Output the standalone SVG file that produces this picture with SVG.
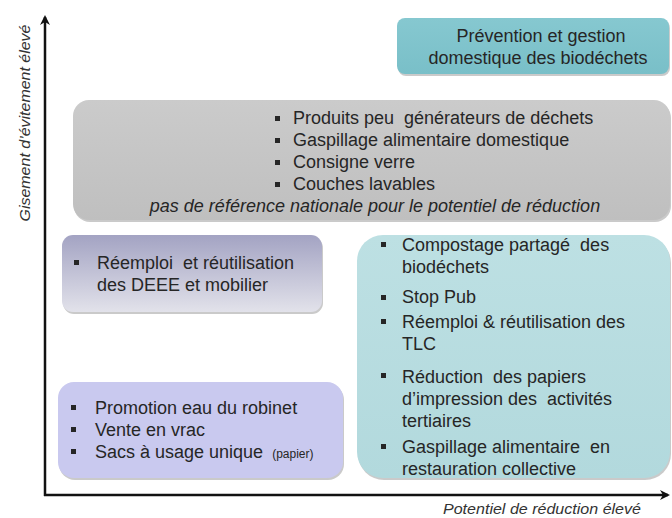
<svg xmlns="http://www.w3.org/2000/svg" width="672" height="518" viewBox="0 0 672 518">
<defs>
<style>
.t{font-family:"Liberation Sans",Arial,sans-serif;font-size:18px;fill:#262626;white-space:pre}
.ti{font-family:"Liberation Sans",Arial,sans-serif;font-size:18px;font-style:italic;fill:#262626}
.ax{font-family:"Liberation Sans",Arial,sans-serif;font-size:14px;font-style:italic;fill:#333}
.sm{font-size:12px}
.b{fill:#262626}
.sh{fill:#8a8a8a;opacity:0.45}
.axis{stroke:#111;stroke-width:2.5;fill:none}
</style>
<linearGradient id="gTeal" x1="0" y1="0" x2="0" y2="1"><stop offset="0" stop-color="#86c8d0"/><stop offset="1" stop-color="#79bfc8"/></linearGradient>
<linearGradient id="gGray" x1="0" y1="0" x2="0" y2="1"><stop offset="0" stop-color="#cbcbcb"/><stop offset="1" stop-color="#bfbfbf"/></linearGradient>
<linearGradient id="gPurp" x1="0" y1="0" x2="0" y2="1"><stop offset="0" stop-color="#a3a3c3"/><stop offset="1" stop-color="#e2e2ea"/></linearGradient>
<linearGradient id="gLt" x1="0" y1="0" x2="0" y2="1"><stop offset="0" stop-color="#bde0e3"/><stop offset="1" stop-color="#b2d9dd"/></linearGradient>
<marker id="arr" viewBox="0 0 10 10" refX="8" refY="5" markerWidth="4" markerHeight="4" orient="auto" markerUnits="strokeWidth"><path d="M0,0 L10,5 L0,10 L3,5 Z" fill="#111"/></marker>
</defs>
<rect width="672" height="518" fill="#fff"/>

<g id="connectors">
<line class="axis" x1="45" y1="496" x2="45" y2="17" marker-end="url(#arr)"/>
<line class="axis" x1="44" y1="495" x2="668" y2="495" marker-end="url(#arr)"/>
</g>

<g id="axis-y-label"><text class="ax" transform="translate(30,123) rotate(-90)" text-anchor="middle" textLength="197" lengthAdjust="spacingAndGlyphs">Gisement d’évitement élevé</text></g>
<g id="axis-x-label"><text class="ax" x="443" y="514" textLength="198" lengthAdjust="spacingAndGlyphs">Potentiel de réduction élevé</text></g>

<g id="node-prevention">
<rect class="sh" x="398" y="20" width="272" height="56" rx="8"/>
<rect x="397" y="18" width="272" height="56" rx="8" fill="url(#gTeal)"/>
<text class="t" x="541" y="42" text-anchor="middle">Prévention et gestion</text>
<text class="t" x="538" y="64" text-anchor="middle">domestique des biodéchets</text>
</g>

<g id="node-gray">
<rect class="sh" x="74" y="102" width="597" height="120" rx="16"/>
<rect x="73" y="100" width="597" height="120" rx="16" fill="url(#gGray)"/>
<rect class="b" x="275" y="116" width="5" height="5"/>
<rect class="b" x="275" y="138" width="5" height="5"/>
<rect class="b" x="275" y="160" width="5" height="5"/>
<rect class="b" x="275" y="182" width="5" height="5"/>
<text class="t" x="293" y="124">Produits peu  générateurs de déchets</text>
<text class="t" x="293" y="146">Gaspillage alimentaire domestique</text>
<text class="t" x="293" y="168">Consigne verre</text>
<text class="t" x="293" y="190">Couches lavables</text>
<text class="ti" x="375" y="212" text-anchor="middle">pas de référence nationale pour le potentiel de réduction</text>
</g>

<g id="node-deee">
<rect class="sh" x="63" y="237" width="260" height="77" rx="11"/>
<rect x="62" y="235" width="260" height="77" rx="11" fill="url(#gPurp)"/>
<rect class="b" x="74" y="260" width="5" height="5"/>
<text class="t" x="97" y="269">Réemploi  et réutilisation</text>
<text class="t" x="97" y="291">des DEEE et mobilier</text>
</g>

<g id="node-lavender">
<rect class="sh" x="59" y="384" width="285" height="96" rx="16"/>
<rect x="58" y="382" width="285" height="96" rx="16" fill="#c9c9ef"/>
<rect class="b" x="71" y="405" width="5" height="5"/>
<rect class="b" x="71" y="427" width="5" height="5"/>
<rect class="b" x="71" y="449" width="5" height="5"/>
<text class="t" x="95" y="414">Promotion eau du robinet</text>
<text class="t" x="95" y="436">Vente en vrac</text>
<text class="t" x="95" y="458">Sacs à usage unique <tspan class="sm" dx="4">(papier)</tspan></text>
</g>

<g id="node-teal-large">
<rect class="sh" x="358" y="237" width="313" height="243" rx="26"/>
<rect x="357" y="235" width="313" height="243" rx="26" fill="url(#gLt)"/>
<rect class="b" x="381" y="242" width="5" height="5"/>
<rect class="b" x="381" y="295" width="5" height="5"/>
<rect class="b" x="381" y="319" width="5" height="5"/>
<rect class="b" x="381" y="373" width="5" height="5"/>
<rect class="b" x="381" y="444" width="5" height="5"/>
<text class="t" x="402" y="251">Compostage partagé  des</text>
<text class="t" x="402" y="273">biodéchets</text>
<text class="t" x="402" y="303">Stop Pub</text>
<text class="t" x="402" y="328">Réemploi &amp; réutilisation des</text>
<text class="t" x="402" y="350">TLC</text>
<text class="t" x="402" y="383">Réduction  des papiers</text>
<text class="t" x="402" y="405">d’impression des  activités</text>
<text class="t" x="402" y="427">tertiaires</text>
<text class="t" x="402" y="453">Gaspillage alimentaire  en</text>
<text class="t" x="402" y="475">restauration collective</text>
</g>
</svg>
